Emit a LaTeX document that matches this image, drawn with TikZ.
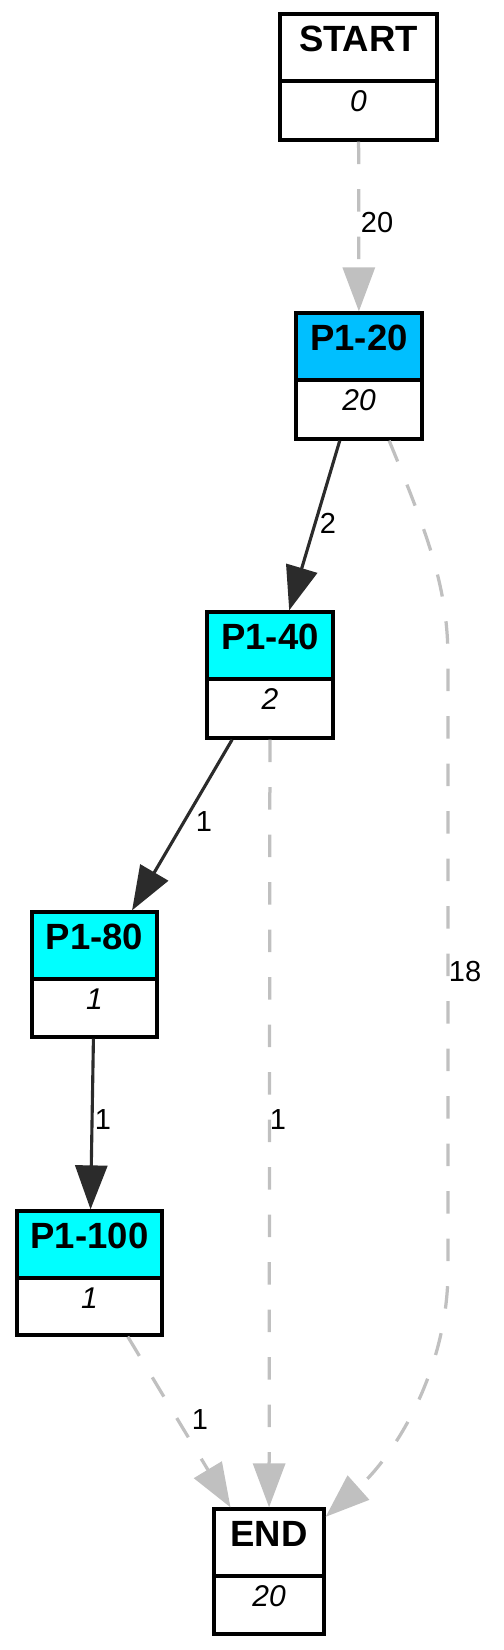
\documentclass[tikz,border=0pt]{standalone}
\usepackage{fontspec}
\setmainfont{Liberation Sans}
\usetikzlibrary{arrows.meta}
\definecolor{hdrblue}{HTML}{00BFFF}
\definecolor{hdrcyan}{HTML}{00FFFF}
\definecolor{edgedark}{HTML}{2B2B2B}
\definecolor{edgegray}{HTML}{C0C0C0}
\tikzset{
  boxnode/.style={draw=black, line width=1.3pt, fill=white, inner sep=0pt, rectangle},
  titletext/.style={font=\fontsize{14.6}{16}\selectfont\bfseries, inner sep=0pt},
  valtext/.style={font=\fontsize{12}{14}\selectfont\itshape, inner sep=0pt},
  edgelabel/.style={font=\fontsize{11.6}{13}\selectfont, inner sep=0pt},
  darkedge/.style={draw=edgedark, line width=1.25pt, -{Triangle[length=17.6pt,width=12.8pt,fill=edgedark]}},
  grayedge/.style={draw=edgegray, line width=1.3pt, dash pattern=on 9pt off 10pt, -{Triangle[length=17.6pt,width=12.8pt,fill=edgegray]}}
}
% #1 name, #2 cx, #3 cy, #4 width px, #5 height px, #6 header fill, #7 title, #8 value
\newcommand\statebox[8]{%
  \node[boxnode, minimum width=#4*0.4pt, minimum height=#5*0.4pt,
        path picture={
          \fill[#6] (path picture bounding box.north west) rectangle ([yshift=-26.8pt]path picture bounding box.north east);
          \draw[line width=1.3pt] ([yshift=-26.8pt]path picture bounding box.north west) -- ([yshift=-26.8pt]path picture bounding box.north east);
        }] (#1) at (#2,#3) {};
  \node[titletext] at ([yshift=-10.6pt]#1.north) {#7};
  \node[valtext] at ([yshift=-35.6pt]#1.north) {#8};
}
\begin{document}
\begin{tikzpicture}[x=0.4pt,y=-0.4pt]
\useasboundingbox (0,0) rectangle (503,1650);
\statebox{start}{358.5}{77}{157}{126}{white}{START}{0}
\statebox{p20}{359}{376}{126}{126}{hdrblue}{P1-20}{20}
\statebox{p40}{270}{675}{126}{126}{hdrcyan}{P1-40}{2}
\statebox{p80}{94.5}{974.5}{125}{125}{hdrcyan}{P1-80}{1}
\statebox{p100}{89.5}{1273}{145}{124}{hdrcyan}{P1-100}{1}
\statebox{endn}{269}{1571.5}{110}{125}{white}{END}{20}

\draw[grayedge] (start) -- (p20);
\draw[darkedge] (p20) -- (p40);
\draw[darkedge] (p40) -- (p80);
\draw[darkedge] (p80) -- (p100);
\draw[grayedge] (p40) -- (endn);
\draw[grayedge] (p100) -- (endn);
\draw[grayedge] (p20.-65) .. controls (430,540) and (448,590) .. (448,660) -- (448,1270) .. controls (448,1370) and (395,1455) .. (endn.44);

\node[edgelabel] (l1) at (377,223) {20};
\node[edgelabel] (l2) at (328,523) {2};
\node[edgelabel] (l3) at (204,822) {1};
\node[edgelabel] (l4) at (103,1120) {1};
\node[edgelabel] (l5) at (278,1120) {1};
\node[edgelabel] (l6) at (200,1420) {1};
\node[edgelabel] (l7) at (465,972) {18};
\end{tikzpicture}
\end{document}
